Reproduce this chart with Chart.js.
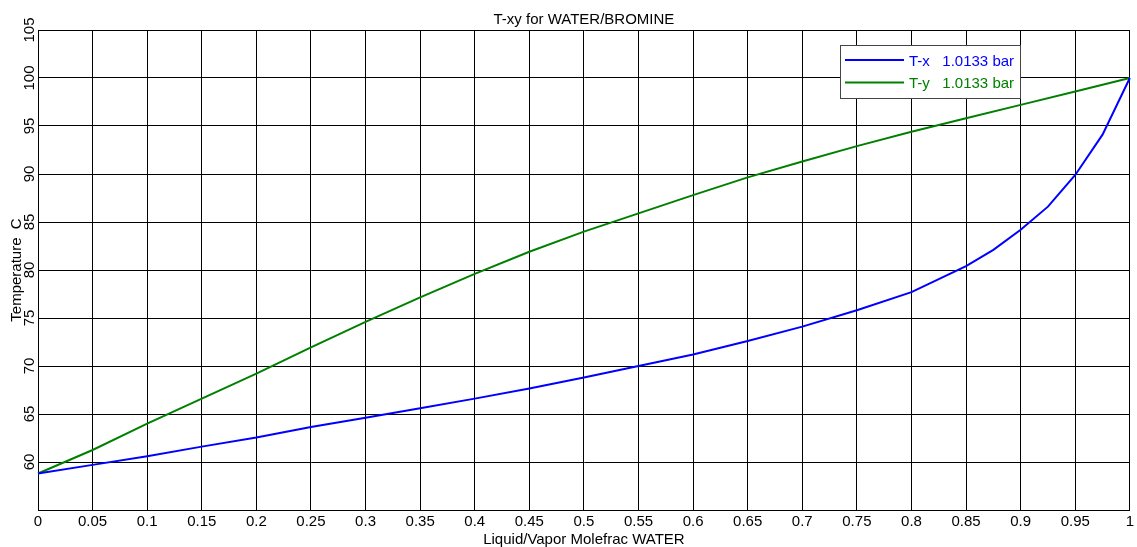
<!DOCTYPE html>
<html><head><meta charset="utf-8">
<script src="https://cdn.jsdelivr.net/npm/chart.js@4"></script>
<style>html,body{margin:0;padding:0;background:#fff}#wrap{width:1137px;height:547px;position:relative}canvas{display:block}</style>
</head><body><div id="wrap"><canvas id="c" width="1137" height="547"></canvas></div>
<script>
const chartTitle = 'T-xy for WATER/BROMINE';
const xAxisTitle = 'Liquid/Vapor Molefrac WATER';
const yAxisTitle = 'Temperature  C';
const seriesLabels = ['T-x   1.0133 bar', 'T-y   1.0133 bar'];

const liquidX = [0, 0.05, 0.1, 0.15, 0.2, 0.25, 0.3, 0.35, 0.4, 0.45, 0.5, 0.55, 0.6, 0.65, 0.7, 0.75, 0.8, 0.85, 0.875, 0.9, 0.925, 0.95, 0.975, 1];
const liquidT = [58.8, 59.7, 60.6, 61.6, 62.55, 63.65, 64.6, 65.6, 66.6, 67.65, 68.8, 70.0, 71.2, 72.6, 74.1, 75.8, 77.7, 80.4, 82.1, 84.2, 86.6, 89.9, 94.1, 100];

const vaporY = [0, 0.05, 0.1, 0.15, 0.2, 0.25, 0.3, 0.35, 0.4, 0.45, 0.5, 0.55, 0.6, 0.65, 0.7, 0.75, 0.8, 0.85, 0.9, 0.95, 1];
const vaporT = [58.8, 61.25, 64.0, 66.6, 69.2, 71.95, 74.6, 77.15, 79.6, 81.9, 84.0, 85.9, 87.8, 89.65, 91.3, 92.9, 94.4, 95.8, 97.2, 98.6, 100];

const xTicks = [0, 0.05, 0.1, 0.15, 0.2, 0.25, 0.3, 0.35, 0.4, 0.45, 0.5, 0.55, 0.6, 0.65, 0.7, 0.75, 0.8, 0.85, 0.9, 0.95, 1];
const xTickLabels = ['0', '0.05', '0.1', '0.15', '0.2', '0.25', '0.3', '0.35', '0.4', '0.45', '0.5', '0.55', '0.6', '0.65', '0.7', '0.75', '0.8', '0.85', '0.9', '0.95', '1'];
const yTicks = [60, 65, 70, 75, 80, 85, 90, 95, 100, 105];
const yTickLabels = ['60', '65', '70', '75', '80', '85', '90', '95', '100', '105'];

const FONT = 'Liberation Sans, Arial, sans-serif';

const overlay = {
  id: 'overlay',
  afterDraw(chart) {
    const ctx = chart.ctx, ca = chart.chartArea;
    ctx.save();
    ctx.font = '15px ' + FONT;
    ctx.fillStyle = '#000';
    ctx.textAlign = 'center';
    ctx.textBaseline = 'alphabetic';
    ctx.fillText(chartTitle, (ca.left + ca.right) / 2, 24);
    // legend box
    ctx.fillStyle = '#fff';
    ctx.fillRect(840.5, 45.5, 180, 53);
    ctx.strokeStyle = '#444';
    ctx.lineWidth = 1;
    ctx.strokeRect(840.5, 45.5, 180, 53);
    const rows = [60, 82.5];
    const bases = [66, 88];
    chart.data.datasets.forEach((ds, i) => {
      ctx.strokeStyle = ds.borderColor;
      ctx.lineWidth = 2;
      ctx.beginPath();
      ctx.moveTo(845, rows[i]);
      ctx.lineTo(904, rows[i]);
      ctx.stroke();
      ctx.fillStyle = ds.borderColor;
      ctx.textAlign = 'left';
      ctx.fillText(ds.label, 909, bases[i]);
    });
    ctx.restore();
  }
};

new Chart(document.getElementById('c'), {
  type: 'line',
  data: {
    datasets: [
      { label: seriesLabels[0], data: liquidX.map((x, i) => ({ x: x, y: liquidT[i] })), borderColor: '#0000ff', borderWidth: 2, pointRadius: 0, tension: 0, fill: false, clip: 4 },
      { label: seriesLabels[1], data: vaporY.map((x, i) => ({ x: x, y: vaporT[i] })), borderColor: '#008000', borderWidth: 2, pointRadius: 0, tension: 0, fill: false, clip: 4 }
    ]
  },
  options: {
    responsive: false,
    animation: false,
    devicePixelRatio: 1,
    layout: { padding: { top: 30, right: 4, left: 0, bottom: 0 } },
    plugins: { legend: { display: false }, title: { display: false }, tooltip: { enabled: false } },
    scales: {
      x: {
        type: 'linear', min: 0, max: 1,
        afterBuildTicks: s => { s.ticks = xTicks.map(v => ({ value: v })); },
        afterFit: s => { s.height = 37; },
        ticks: { autoSkip: false, maxRotation: 0, minRotation: 0, padding: 3, color: '#000', font: { family: FONT, size: 15 }, callback: (v, i) => xTickLabels[i] },
        grid: { color: '#000', lineWidth: 1, drawTicks: false },
        border: { color: '#000', width: 1 },
        title: { display: true, text: xAxisTitle, color: '#000', font: { family: FONT, size: 15, lineHeight: 1 }, padding: { top: 0, bottom: 0 } }
      },
      y: {
        type: 'linear', min: 55, max: 105,
        afterBuildTicks: s => { s.ticks = yTicks.map(v => ({ value: v })); },
        afterFit: s => { s.width = 38; },
        ticks: { autoSkip: false, minRotation: 90, maxRotation: 90, crossAlign: 'center', padding: -4, color: '#000', font: { family: FONT, size: 15 }, callback: (v, i) => yTickLabels[i] },
        grid: { color: '#000', lineWidth: 1, drawTicks: false },
        border: { color: '#000', width: 1 },
        title: { display: true, text: yAxisTitle, color: '#000', font: { family: FONT, size: 15, lineHeight: 1 }, padding: { top: 9, bottom: 0 } }
      }
    }
  },
  plugins: [overlay]
});
</script>
</body></html>
